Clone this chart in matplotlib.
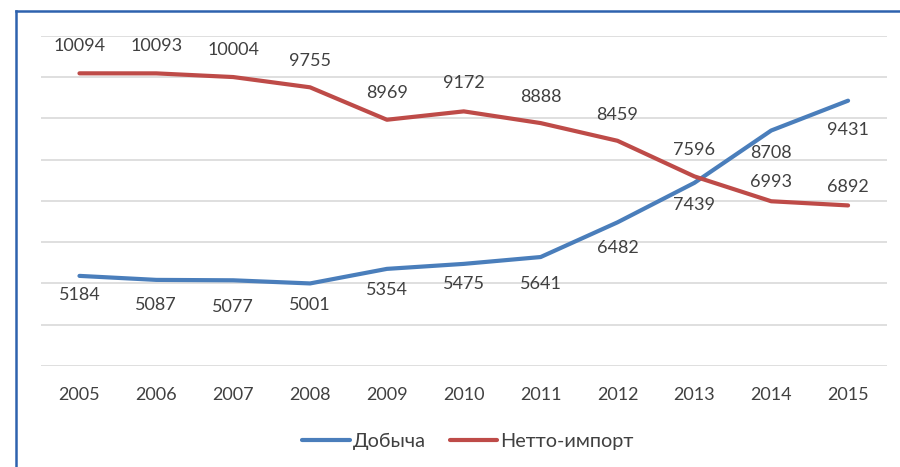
import matplotlib.pyplot as plt
from matplotlib.lines import Line2D

years = ["2005", "2006", "2007", "2008", "2009", "2010",
         "2011", "2012", "2013", "2014", "2015"]
production = [5184, 5087, 5077, 5001, 5354, 5475, 5641, 6482, 7439, 8708, 9431]
net_import = [10094, 10093, 10004, 9755, 8969, 9172, 8888, 8459, 7596, 6993, 6892]

# label offsets (pixels, + = below the point)
production_dy = [19, 25, 27, 22, 21, 20, 27, 26, 22, 22, 29]
net_import_dy = [-27, -27, -27, -26, -27, -28, -26, -26, -26, -19, -18]

BLUE = "#4A7EBB"
RED = "#BE4B48"
FONT = "Lato"
FS = 13

fig = plt.figure(figsize=(9, 4.67), dpi=100)
ax = fig.add_axes([0.0456, 0.2163, 0.985 - 0.0456, 0.923 - 0.2163])

x = range(len(years))
ax.plot(x, production, color=BLUE, lw=3, solid_capstyle="round", label="Добыча")
ax.plot(x, net_import, color=RED, lw=3, solid_capstyle="round", label="Нетто-импорт")

for i, (v, dy) in enumerate(zip(production, production_dy)):
    ax.annotate(str(v), (i, v), xytext=(0, -dy * 0.72), textcoords="offset points",
                ha="center", va="center", fontsize=FS, family=FONT, color="#404040")
for i, (v, dy) in enumerate(zip(net_import, net_import_dy)):
    ax.annotate(str(v), (i, v), xytext=(0, -dy * 0.72), textcoords="offset points",
                ha="center", va="center", fontsize=FS, family=FONT, color="#404040")

ax.set_xlim(-0.5, len(years) - 0.5)
ax.set_ylim(3000, 11000)
ax.set_yticks(range(3000, 11001, 1000))
ax.yaxis.grid(True, color="#D9D9D9", lw=1.2)
ax.set_axisbelow(True)
ax.tick_params(axis="y", left=False, labelleft=False)
ax.tick_params(axis="x", length=0, pad=15, labelsize=FS, labelcolor="#404040")
ax.set_xticks(list(x))
ax.set_xticklabels(years, family=FONT)
for s in ax.spines.values():
    s.set_visible(False)

fig.legend(loc="center", bbox_to_anchor=(468 / 900, 1 - 441 / 467), ncol=2,
           frameon=False, handlelength=2.4, handletextpad=0.15, columnspacing=1.2,
           prop={"family": FONT, "size": 14.3}, labelcolor="#404040")

# blue frame around the chart (left and top edges visible)
bx, by = 15.5 / 900, 1 - 10.5 / 467
fig.add_artist(Line2D([bx, bx], [0, by], color="#2E62AE", lw=1.8, transform=fig.transFigure))
fig.add_artist(Line2D([bx, 1], [by, by], color="#2E62AE", lw=1.8, transform=fig.transFigure))

fig.savefig("out.png", dpi=100)
